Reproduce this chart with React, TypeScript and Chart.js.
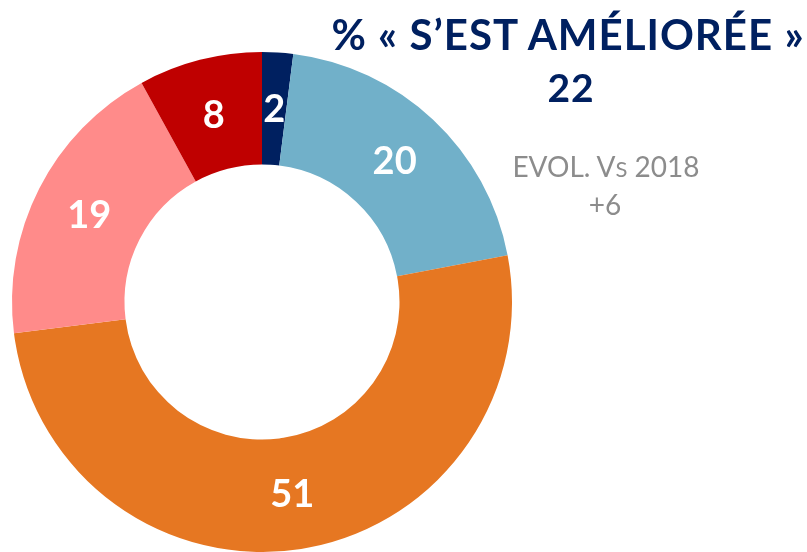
import React, { useEffect, useRef } from "react";
import { Chart, registerables } from "chart.js";

Chart.register(...registerables);

const categories = ["Nettement améliorée", "Plutôt améliorée", "Inchangée", "Plutôt dégradée", "Nettement dégradée"];
const values = [2, 20, 51, 19, 8];
const colors = ["#002060", "#71B0C9", "#E67722", "#FF8B8A", "#BF0000"];
const titleText = "% « S’EST AMÉLIORÉE »";
const titleValue = "22";
const evolLabel = ["EVOL. V", "S", " 2018"];
const evolValue = "+6";

const FONT = "Lato, 'Open Sans', sans-serif";

const labelPlugin = {
  id: "sliceLabels",
  afterDatasetsDraw(chart: any) {
    const ctx = chart.ctx;
    const meta = chart.getDatasetMeta(0);
    ctx.save();
    ctx.fillStyle = "#FFFFFF";
    ctx.font = `bold 38px ${FONT}`;
    ctx.textAlign = "center";
    ctx.textBaseline = "alphabetic";
    meta.data.forEach((arc: any, i: number) => {
      const p = arc.getCenterPoint();
      ctx.fillText(String(values[i]), p.x, p.y + 13.5);
    });
    ctx.restore();
  },
};

export default function App() {
  const ref = useRef<HTMLCanvasElement>(null);
  useEffect(() => {
    if (!ref.current) return;
    const chart = new Chart(ref.current, {
      type: "doughnut",
      data: {
        labels: categories,
        datasets: [
          {
            data: values,
            backgroundColor: colors,
            borderWidth: 0,
          },
        ],
      },
      options: {
        responsive: false,
        animation: false,
        cutout: "55%",
        rotation: 0,
        layout: { padding: { left: 12, right: 295, top: 52, bottom: 0 } },
        plugins: {
          legend: { display: false },
          tooltip: { enabled: false },
          title: { display: false },
        },
      },
      plugins: [labelPlugin],
    });
    return () => chart.destroy();
  }, []);

  return (
    <div style={{ position: "fixed", left: 0, top: 0, width: 807, height: 552, background: "#fff", overflow: "hidden" }}>
      <canvas ref={ref} width={807} height={552} style={{ position: "absolute", left: 0, top: 0, width: 807, height: 552 }} />
      <div
        style={{
          position: "absolute",
          left: 568,
          top: 12.7,
          transform: "translateX(-50%)",
          whiteSpace: "nowrap",
          fontFamily: FONT,
          fontWeight: 700,
          fontSize: 42,
          letterSpacing: 1,
          lineHeight: 1,
          color: "#002060",
        }}
      >
        {titleText}
      </div>
      <div
        style={{
          position: "absolute",
          left: 571,
          top: 68.4,
          transform: "translateX(-50%)",
          whiteSpace: "nowrap",
          fontFamily: FONT,
          fontWeight: 700,
          fontSize: 39,
          letterSpacing: 1,
          lineHeight: 1,
          color: "#002060",
        }}
      >
        {titleValue}
      </div>
      <div
        style={{
          position: "absolute",
          left: 606,
          top: 152,
          transform: "translateX(-50%)",
          whiteSpace: "nowrap",
          fontFamily: FONT,
          fontWeight: 400,
          fontSize: 28,
          lineHeight: 1,
          color: "#8C8C8C",
        }}
      >
        {evolLabel[0]}
        <span style={{ fontSize: 22 }}>{evolLabel[1]}</span>
        {evolLabel[2]}
      </div>
      <div
        style={{
          position: "absolute",
          left: 605,
          top: 190,
          transform: "translateX(-50%)",
          whiteSpace: "nowrap",
          fontFamily: FONT,
          fontWeight: 400,
          fontSize: 28,
          lineHeight: 1,
          color: "#8C8C8C",
        }}
      >
        {evolValue}
      </div>
    </div>
  );
}
